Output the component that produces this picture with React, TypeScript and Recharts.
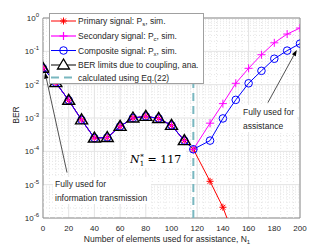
import React from 'react';
import {
  ComposedChart,
  Line,
  XAxis,
  YAxis,
  CartesianGrid,
  ReferenceLine,
  ReferenceArea
} from 'recharts';

// number of elements used for assistance (N1)
const elements = [0, 10, 20, 30, 40, 50, 60, 70, 80, 90, 100, 110, 117, 130, 140, 150, 160, 170, 180, 190, 200];

const primary = [0.031, 0.0115, 0.0034, 8.8e-4, 2.5e-4, 2.6e-4, 5.6e-4, 1.0e-3, 1.12e-3, 9.7e-4, 6.0e-4, 2.1e-4, 1.15e-4, 1.26e-5, 2.1e-6, 2e-7];
const secondary = [0.031, 0.0115, 0.0034, 8.8e-4, 2.5e-4, 2.6e-4, 5.6e-4, 1.0e-3, 1.12e-3, 9.7e-4, 6.0e-4, 2.1e-4, 1.15e-4, 7e-4, 2.7e-3, 0.011, 0.031, 0.079, 0.18, 0.33, 0.5];
const composite = [0.031, 0.0115, 0.0034, 8.8e-4, 2.5e-4, 2.6e-4, 5.6e-4, 1.0e-3, 1.12e-3, 9.7e-4, 6.0e-4, 2.1e-4, 1.15e-4, 2.1e-4, 9.7e-4, 3.5e-3, 0.011, 0.026, 0.06, 0.105, 0.17];
const berLimit = [0.031, 0.0115, 0.0034, 8.8e-4, 2.5e-4, 2.6e-4, 5.6e-4, 1.0e-3, 1.12e-3, 9.7e-4, 6.0e-4, 2.1e-4];

const optimalN = 117;

const xTicks = [0, 20, 40, 60, 80, 100, 120, 140, 160, 180, 200];
const yTicks = [1e-6, 1e-5, 1e-4, 1e-3, 1e-2, 1e-1, 1];

// minor grid (log decades / 5-unit steps)
const yMinor: number[] = [];
for (let e = -6; e < 0; e++) {
  for (let k = 2; k <= 9; k++) yMinor.push(k * Math.pow(10, e));
}
const xMinor: number[] = [];
for (let v = 5; v < 200; v += 5) if (v % 20 !== 0) xMinor.push(v);

const data = elements.map((n, i) => ({
  n,
  primary: primary[i] ?? null,
  secondary: secondary[i] ?? null,
  composite: composite[i] ?? null,
  limit: berLimit[i] ?? null
}));

const FONT = '"Liberation Sans", Arial, Helvetica, sans-serif';
const TEXT = '#262626';
const AXIS = '#8f8f8f';
const TEAL = '#79b7bf';
const RED = '#ff0000';
const MAGENTA = '#ff00ff';
const BLUE = '#0000ff';

const Star = ({ cx, cy }: any) => {
  if (cx == null || cy == null) return <g />;
  return (
    <g>
      <line x1={cx - 3.5} y1={cy} x2={cx + 3.5} y2={cy} stroke={RED} />
      <line x1={cx} y1={cy - 3.5} x2={cx} y2={cy + 3.5} stroke={RED} />
      <line x1={cx - 2.5} y1={cy - 2.5} x2={cx + 2.5} y2={cy + 2.5} stroke={RED} />
      <line x1={cx - 2.5} y1={cy + 2.5} x2={cx + 2.5} y2={cy - 2.5} stroke={RED} />
    </g>
  );
};

const Plus = ({ cx, cy, w = 1 }: any) => {
  if (cx == null || cy == null) return <g />;
  return (
    <g>
      <line x1={cx - 4} y1={cy} x2={cx + 4} y2={cy} stroke={MAGENTA} strokeWidth={w} />
      <line x1={cx} y1={cy - 4} x2={cx} y2={cy + 4} stroke={MAGENTA} strokeWidth={w} />
    </g>
  );
};

const Ring = ({ cx, cy }: any) => {
  if (cx == null || cy == null) return <g />;
  return <circle cx={cx} cy={cy} r={3.8} fill="none" stroke={BLUE} strokeWidth={1} />;
};

const Tri = ({ cx, cy }: any) => {
  if (cx == null || cy == null) return <g />;
  return (
    <polygon
      points={`${cx},${cy - 6} ${cx - 6},${cy + 4} ${cx + 6},${cy + 4}`}
      fill="none"
      stroke="#000"
      strokeWidth={1.4}
    />
  );
};

const Arrow = (p: any) => {
  const { x1, y1, x2, y2 } = p;
  if (x1 == null) return <g />;
  const a = Math.atan2(y2 - y1, x2 - x1);
  const L = 6;
  const W = 2.2;
  const bx = x2 - L * Math.cos(a);
  const by = y2 - L * Math.sin(a);
  const px = -Math.sin(a) * W;
  const py = Math.cos(a) * W;
  return (
    <g>
      <line x1={x1} y1={y1} x2={bx} y2={by} stroke="#262626" strokeWidth={0.8} />
      <polygon points={`${x2},${y2} ${bx + px},${by + py} ${bx - px},${by - py}`} fill="#000" />
    </g>
  );
};

const YTick = ({ x, y, payload }: any) => {
  const e = Math.round(Math.log10(payload.value));
  return (
    <text x={x} y={y + 3} textAnchor="end" fontSize={8} fill={TEXT} fontFamily={FONT}>
      10
      <tspan dy={-4} fontSize={6}>{e}</tspan>
    </text>
  );
};

const legendRows = [
  { label: 'Primary signal: P', sub: 's', tail: ', sim.', y: 21 },
  { label: 'Secondary signal: P', sub: 'c', tail: ', sim.', y: 36 },
  { label: 'Composite signal: P', sub: 'x', tail: ', sim.', y: 50.5 },
  { label: 'BER limits due to coupling, ana.', sub: '', tail: '', y: 65 },
  { label: 'calculated using Eq.(22)', sub: '', tail: '', y: 77.5 }
];

const Overlay = () => (
  <svg
    width={332}
    height={249}
    style={{ position: 'absolute', left: 0, top: 0, pointerEvents: 'none' }}
    fontFamily={FONT}
  >
    {/* legend */}
    <rect x={49.5} y={13.5} width={154} height={70} fill="#fff" stroke="#a0a0a0" strokeWidth={1} />
    {legendRows.map((r, i) => (
      <g key={i}>
        {i === 0 && (
          <g>
            <line x1={51} y1={r.y} x2={76} y2={r.y} stroke={RED} />
            <Star cx={63.5} cy={r.y} />
          </g>
        )}
        {i === 1 && (
          <g>
            <line x1={51} y1={r.y} x2={76} y2={r.y} stroke={MAGENTA} strokeWidth={1.2} />
            <Plus cx={63.5} cy={r.y} w={1.2} />
          </g>
        )}
        {i === 2 && (
          <g>
            <line x1={51} y1={r.y} x2={76} y2={r.y} stroke={BLUE} />
            <Ring cx={63.5} cy={r.y} />
          </g>
        )}
        {i === 3 && (
          <g>
            <line x1={51} y1={r.y} x2={76} y2={r.y} stroke="#000" />
            <polygon
              points={`${63.5},${r.y - 6} ${57.5},${r.y + 4} ${69.5},${r.y + 4}`}
              fill="#fff"
              stroke="#000"
              strokeWidth={1.3}
            />
          </g>
        )}
        {i === 4 && (
          <line x1={51} y1={r.y} x2={76} y2={r.y} stroke={TEAL} strokeWidth={2} strokeDasharray="8 5" />
        )}
        <text x={78} y={r.y + 3} fontSize={8.5} fill={TEXT}>
          {r.label}
          {r.sub && (
            <tspan dy={2} fontSize={6}>
              {r.sub}
            </tspan>
          )}
          {r.tail && <tspan dy={-2}>{r.tail}</tspan>}
        </text>
      </g>
    ))}

    {/* annotations */}
    <rect x={127} y={150} width={59} height={18} fill="#fff" />
    <text x={130} y={163} fontSize={11} fill="#000" fontFamily='"DejaVu Serif", "Liberation Serif", serif'>
      <tspan fontStyle="italic">N</tspan>
      <tspan dx={0.5} dy={-4} fontSize={7}>*</tspan>
      <tspan dx={-4} dy={7} fontSize={7}>1</tspan>
      <tspan dy={-3}> = 117</tspan>
    </text>

    <rect x={53} y={177} width={98} height={27} fill="#fff" />
    <text x={55} y={187} fontSize={8.5} fill={TEXT}>Fully used for</text>
    <text x={55} y={201} fontSize={8.5} fill={TEXT}>information transmission</text>

    <rect x={241} y={105} width={56} height={27} fill="#fff" />
    <text x={243} y={115} fontSize={8.5} fill={TEXT}>Fully used for</text>
    <text x={243} y={129} fontSize={8.5} fill={TEXT}>assistance</text>

    {/* axis labels */}
    <text transform="translate(19,115) rotate(-90)" textAnchor="middle" fontSize={8.5} fill={TEXT}>
      BER
    </text>
    <text x={167} y={242} textAnchor="middle" fontSize={8.5} fill={TEXT}>
      Number of elements used for assistance, N
      <tspan dy={2} fontSize={6}>1</tspan>
    </text>
  </svg>
);

export default function App() {
  return (
    <div style={{ position: 'absolute', left: 0, top: 0, width: 332, height: 249, background: '#fff' }}>
      <ComposedChart width={332} height={249} data={data} margin={{ top: 18, right: 32, bottom: 0, left: 0 }}>
        <CartesianGrid stroke="#e3e3e3" strokeWidth={1} />
        {yMinor.map((v) => (
          <ReferenceLine key={'ym' + v} y={v} stroke="#e6e6e6" strokeDasharray="1 2" />
        ))}
        {xMinor.map((v) => (
          <ReferenceLine key={'xm' + v} x={v} stroke="#e6e6e6" strokeDasharray="1 2" />
        ))}
        <XAxis
          dataKey="n"
          type="number"
          domain={[0, 200]}
          ticks={xTicks}
          allowDataOverflow
          height={31}
          axisLine={false}
          tickLine={false}
          tickSize={3}
          tickMargin={4}
          tick={{ fontSize: 8, fill: TEXT, fontFamily: FONT }}
        />
        <YAxis
          scale="log"
          domain={[1e-6, 1]}
          ticks={yTicks}
          allowDataOverflow
          width={43}
          axisLine={false}
          tickLine={false}
          tickSize={0}
          tickMargin={4}
          tick={<YTick />}
        />
        <ReferenceArea x1={0} x2={200} y1={1e-6} y2={1} fill="none" stroke={AXIS} strokeWidth={1} />
        <ReferenceLine x={optimalN} stroke={TEAL} strokeWidth={2} strokeDasharray="8 5" />
        <ReferenceLine
          segment={[
            { x: 175, y: 2.9e-3 },
            { x: 197.5, y: 0.11 }
          ]}
          shape={Arrow}
        />
        <ReferenceLine
          segment={[
            { x: 18.7, y: 2.3e-5 },
            { x: 1.6, y: 0.023 }
          ]}
          shape={Arrow}
        />
        <Line dataKey="limit" stroke="#000" strokeWidth={1} dot={false} isAnimationActive={false} />
        <Line dataKey="primary" stroke={RED} strokeWidth={1} dot={Star} isAnimationActive={false} />
        <Line dataKey="secondary" stroke={MAGENTA} strokeWidth={1} dot={Plus} isAnimationActive={false} />
        <Line dataKey="composite" stroke={BLUE} strokeWidth={1} dot={Ring} isAnimationActive={false} />
        <Line dataKey="limit" stroke="none" dot={Tri} isAnimationActive={false} legendType="none" />
      </ComposedChart>
      <Overlay />
    </div>
  );
}
